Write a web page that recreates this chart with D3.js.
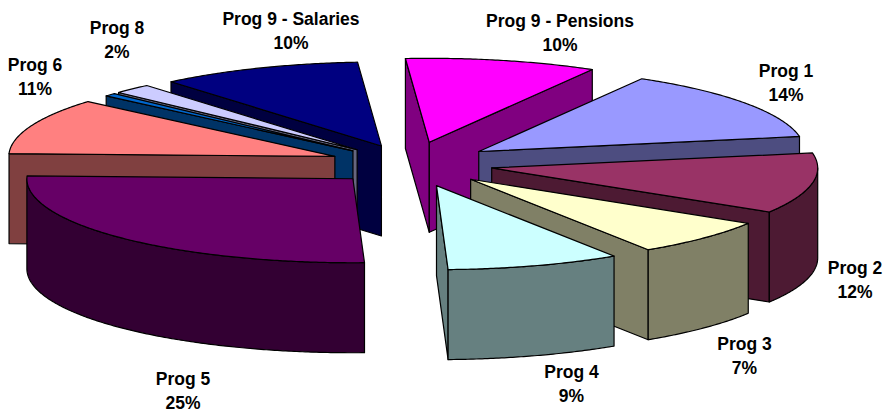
<!DOCTYPE html>
<meta charset="utf-8">
<style>
  body { margin: 0; background: #fff; }
  text { font-family: "Liberation Sans", Arial, sans-serif; font-weight: bold; font-size: 17.5px; fill: #000; }
</style>

<!-- Load d3.js -->
<script src="https://d3js.org/d3.v7.js"></script>

<div id="my_dataviz"></div>

<script>

// chart data (percent of total)
var categories = ["Prog 1", "Prog 2", "Prog 3", "Prog 4", "Prog 5", "Prog 6", "Prog 7", "Prog 8", "Prog 9 - Salaries", "Prog 9 - Pensions"];
var shares = [13.8, 11.65, 7.05, 8.6, 26.1, 10.8, 0.6, 1.9, 10.0, 9.5];
var percentLabels = ["14%", "12%", "7%", "9%", "25%", "11%", null, "2%", "10%", "10%"];

// how far each slice is pulled out of the pie
var explode = [0.258, 0.255, 0.26, 0.27, 0.248, 0.2475, 0.235, 0.235, 0.232, 0.265];

// top face and wall colours
var topColors = ["#9999ff", "#993366", "#ffffcc", "#ccffff", "#660066", "#ff8080", "#0066cc", "#ccccff", "#000080", "#ff00ff"];
var wallColors = ["#4d4d80", "#4d1a33", "#808066", "#668080", "#330033", "#804040", "#003366", "#666680", "#000040", "#800080"];

// label centres (first line baseline)
var labelX = [786, 855, 744.5, 571.5, 183, 35, 0, 117, 291, 560];
var labelY = [77, 274, 350, 378, 385, 71, 0, 34, 25, 27];

var width = 884, height = 411;
var center = {x: 410, y: 164};
var rx = 326, ry = 84, depth = 90;
var rad = Math.PI / 180;

var svg = d3.select("#my_dataviz")
  .append("svg")
    .attr("width", width)
    .attr("height", height)
    .style("display", "block");

// unit circle to screen offsets
var x = d3.scaleLinear().domain([-1, 1]).range([-rx, rx]);
var y = d3.scaleLinear().domain([-1, 1]).range([ry, -ry]);

var pie = d3.pie().sort(null).startAngle(30 * rad).endAngle(390 * rad);
var arcs = pie(shares).map(function(d, i) {
  var mid = (d.startAngle + d.endAngle) / 2;
  return {
    i: i,
    start: d.startAngle,
    end: d.endAngle,
    mid: mid,
    ax: center.x + explode[i] * x(Math.sin(mid)),
    ay: center.y + explode[i] * y(Math.cos(mid))
  };
});

var line = d3.line();

function rim(s, angle, drop) {
  return [s.ax + x(Math.sin(angle)), s.ay + y(Math.cos(angle)) + drop];
}

function arcPoints(s, a0, a1, drop) {
  var n = Math.max(2, Math.ceil((a1 - a0) / (rad / 2)));
  return d3.range(n + 1).map(function(k) {
    return rim(s, a0 + (a1 - a0) * k / n, drop);
  });
}

function radialWall(s, angle) {
  return line([[s.ax, s.ay], rim(s, angle, 0), rim(s, angle, depth), [s.ax, s.ay + depth]]) + "Z";
}

function addFace(d, fill) {
  svg.append("path")
    .attr("d", d)
    .attr("fill", fill)
    .attr("stroke", "#000")
    .attr("stroke-width", 1.2)
    .attr("stroke-linejoin", "round");
}

// back to front
arcs.slice().sort(function(a, b) { return d3.ascending(-Math.cos(a.mid), -Math.cos(b.mid)); })
  .forEach(function(s) {
    var wall = wallColors[s.i];

    // a radial wall only shows when it turns to the viewer
    if (Math.sin(s.start) < 0) addFace(radialWall(s, s.start), wall);
    if (Math.sin(s.end) > 0) addFace(radialWall(s, s.end), wall);

    // curved wall, front half of the pie only
    var a0 = Math.max(s.start, 90 * rad), a1 = Math.min(s.end, 270 * rad);
    if (a1 > a0) {
      addFace(line(arcPoints(s, a0, a1, 0).concat(arcPoints(s, a0, a1, depth).reverse())) + "Z", wall);
    }

    addFace(line([[s.ax, s.ay]].concat(arcPoints(s, s.start, s.end, 0))) + "Z", topColors[s.i]);
  });

// labels, white box behind each one like the original
categories.forEach(function(name, i) {
  if (!percentLabels[i]) return;
  var g = svg.append("g");
  var t = g.append("text")
    .attr("text-anchor", "middle")
    .attr("x", labelX[i])
    .attr("y", labelY[i]);
  t.append("tspan").attr("x", labelX[i]).text(name);
  t.append("tspan").attr("x", labelX[i]).attr("dy", 23.5).text(percentLabels[i]);
  var box = t.node().getBBox();
  g.insert("rect", "text")
    .attr("x", box.x)
    .attr("y", box.y)
    .attr("width", box.width)
    .attr("height", box.height)
    .attr("fill", "#fff");
});

</script>
